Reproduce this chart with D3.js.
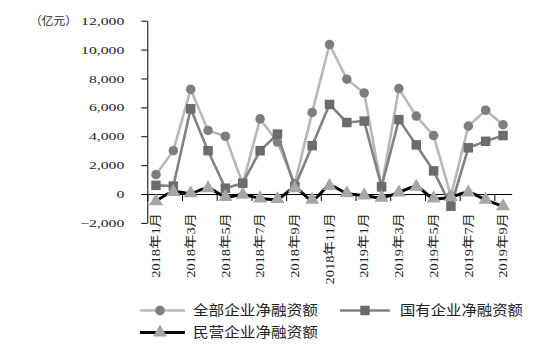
<!DOCTYPE html>
<html><head><meta charset="utf-8">
<script src="https://cdn.jsdelivr.net/npm/d3@7/dist/d3.min.js"></script>
<style>
html,body{margin:0;padding:0;background:#fff;}
svg{display:block;}
</style></head>
<body>
<svg id="c" width="546" height="357"></svg>
<script>
const categories = ["2018年1月","2018年2月","2018年3月","2018年4月","2018年5月","2018年6月","2018年7月","2018年8月","2018年9月","2018年10月","2018年11月","2018年12月","2019年1月","2019年2月","2019年3月","2019年4月","2019年5月","2019年6月","2019年7月","2019年8月","2019年9月"];
const allNet     = [1350, 3000, 7250, 4400, 4000, 700, 5200, 3600, 700, 5650, 10350, 7950, 7000, 450, 7300, 5400, 4050, -150, 4700, 5800, 4800];
const stateNet   = [600, 550, 5900, 3000, 400, 750, 3000, 4150, 500, 3350, 6200, 4950, 5050, 500, 5150, 3400, 1600, -850, 3200, 3650, 4050];
const privateNet = [-500, 150, 50, 400, -200, -50, -300, -350, 400, -400, 550, 50, -100, -250, 100, 500, -300, -200, 100, -400, -850];
const yTicks = [-2000, 0, 2000, 4000, 6000, 8000, 10000, 12000];
const seriesNames = ["全部企业净融资额", "国有企业净融资额", "民营企业净融资额"];
const unitLabel = "（亿元）";

const svg = d3.select("#c");
const FONT = "'Liberation Serif','Noto Sans CJK SC',serif";
const CJK = "'Noto Sans CJK SC',sans-serif";
const x0 = 147.3, x1 = 511.7;
const x = d3.scaleBand().domain(categories).range([x0, x1]).padding(0);
const xb = d3.scaleLinear().domain([0, categories.length]).range([x0, x1]);
const y = d3.scaleLinear().domain([-2000, 12000]).range([222.9, 20.7]);
const cx = d => x(d) + x.bandwidth() / 2;

// y axis
const yAxis = svg.append("g").attr("transform", `translate(${x0},0)`)
  .call(d3.axisLeft(y).tickValues(yTicks).tickSize(6).tickPadding(17).tickSizeOuter(0)
    .tickFormat(v => v < 0 ? "−" + d3.format(",")(-v) : d3.format(",")(v)));
yAxis.selectAll("text").attr("font-family", FONT).attr("font-size", 11).attr("fill", "#222")
  .each(function(){ const w = this.getComputedTextLength(); d3.select(this).attr("textLength", w*1.43).attr("lengthAdjust","spacingAndGlyphs"); });
yAxis.selectAll("path,line").attr("stroke", "#000");

svg.append("text").attr("x", 30).attr("y", y(12000)).attr("dy", "0.35em")
  .attr("font-family", CJK).attr("font-size", 11.7).attr("fill", "#222")
  .attr("textLength", 47).attr("lengthAdjust", "spacingAndGlyphs").text(unitLabel);

// x axis at zero
const xAxis = svg.append("g").attr("transform", `translate(0,${y(0)})`)
  .call(d3.axisBottom(xb).tickValues(d3.range(0, categories.length, 2)).tickSize(7).tickSizeOuter(0).tickFormat(""));
xAxis.selectAll("path,line").attr("stroke", "#000");

svg.append("g").selectAll("text").data(categories.filter((d, i) => i % 2 === 0)).join("text")
  .attr("transform", d => `translate(${cx(d)},213) rotate(-90)`)
  .attr("text-anchor", "end").attr("dy", "0.35em")
  .attr("font-family", FONT).attr("font-size", 12).attr("fill", "#222")
  .text(d => d)
  .each(function(){ const w = this.getComputedTextLength(); d3.select(this).attr("textLength", w*1.2).attr("lengthAdjust","spacingAndGlyphs"); });

const styles = [
  {data: allNet, line: "#b8b8b8", fill: "#7e7e7e", marker: "circle", curve: d3.curveLinear, w: 2.6},
  {data: stateNet, line: "#828282", fill: "#6c6c6c", marker: "square", curve: d3.curveLinear, w: 2.6},
  {data: privateNet, line: "#000000", fill: "#a6a6a6", marker: "triangle", curve: d3.curveCatmullRom.alpha(0.5), w: 3}
];
const sym = {
  circle: d3.symbol().type(d3.symbolCircle).size(72),
  square: d3.symbol().type(d3.symbolSquare).size(90),
  triangle: d3.symbol().type(d3.symbolTriangle).size(85)
};

styles.forEach(s => {
  const pts = categories.map((c, i) => [cx(c), y(s.data[i])]);
  svg.append("path").attr("d", d3.line().curve(s.curve)(pts))
    .attr("fill", "none").attr("stroke", s.line).attr("stroke-width", s.w).attr("stroke-linejoin", "round");
  svg.append("g").selectAll("path").data(pts).join("path")
    .attr("transform", p => `translate(${p[0]},${p[1]})`)
    .attr("d", sym[s.marker]()).attr("fill", s.fill);
});

// legend
const leg = [
  {sx: 140, ex: 185, mx: 160, y: 310.5, tx: 193, tw: 125, s: styles[0], name: seriesNames[0]},
  {sx: 340, ex: 390, mx: 365, y: 310.5, tx: 400, tw: 123, s: styles[1], name: seriesNames[1]},
  {sx: 140, ex: 185, mx: 160, y: 332.5, tx: 193, tw: 125, s: styles[2], name: seriesNames[2]}
];
leg.forEach(l => {
  svg.append("line").attr("x1", l.sx).attr("x2", l.ex).attr("y1", l.y).attr("y2", l.y)
    .attr("stroke", l.s.line).attr("stroke-width", l.s.w);
  svg.append("path").attr("transform", `translate(${l.mx},${l.y})`).attr("d", sym[l.s.marker]()).attr("fill", l.s.fill);
  svg.append("text").attr("x", l.tx).attr("y", l.y).attr("dy", "0.35em")
    .attr("font-family", FONT).attr("font-size", 13.5).attr("fill", "#222")
    .attr("textLength", l.tw).attr("lengthAdjust", "spacingAndGlyphs").text(l.name);
});
</script>
</body></html>
